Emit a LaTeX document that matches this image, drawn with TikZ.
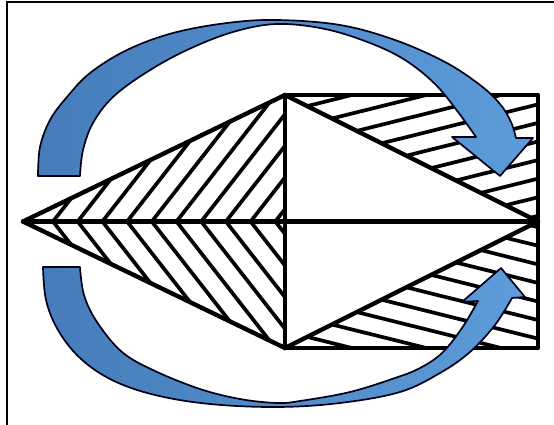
\documentclass[tikz,border=0pt]{standalone}
\definecolor{arrowdark}{RGB}{70,124,186}
\definecolor{arrowlight}{RGB}{92,156,216}
\tikzset{
  outline/.style={line width=4.4pt, line join=round, line cap=round},
  hatch/.style={line width=3.7pt},
  arrowbody/.style={draw=black!90!blue, line width=1.7pt, left color=arrowdark, right color=arrowlight, line join=round},
  framestroke/.style={line width=2.2pt}
}
\begin{document}
\begin{tikzpicture}[x=1pt,y=-1pt]
\useasboundingbox (0,0) rectangle (554,425);
\fill[white] (0,0) rectangle (554,425);
% key points
\coordinate (T) at (23,221.5);
\coordinate (R1) at (285,95);
\coordinate (R2) at (538,95);
\coordinate (R3) at (538,348);
\coordinate (R4) at (285,348);
\coordinate (M) at (538,221.5);
\coordinate (C) at (285,221.5);
\coordinate (FBL) at (7,432);
\coordinate (FTL) at (7,2);
\coordinate (FTR) at (560,2);
% frame
\draw[framestroke] (FBL) -- (FTL) -- (FTR);
% hatching: left upper triangle
\begin{scope}
\clip (T) -- (R1) -- (C) -- cycle;
\foreach \k in {-1,...,11} {
  \pgfmathsetmacro{\xa}{53+24.7*\k}
  \draw[hatch] (\xa-60,298.3) -- (\xa+130,55.1);
}
\end{scope}
% left lower triangle
\begin{scope}
\clip (T) -- (C) -- (R4) -- cycle;
\foreach \k in {-1,...,11} {
  \pgfmathsetmacro{\xa}{53+24.7*\k}
  \draw[hatch] (\xa-60,144.7) -- (\xa+130,387.9);
}
\end{scope}
% right upper triangle
\begin{scope}
\clip (R1) -- (R2) -- (M) -- cycle;
\foreach \k in {-3,...,10} {
  \pgfmathsetmacro{\px}{332+24.8*\k}
  \pgfmathsetmacro{\py}{118.5+12.4*\k}
  \draw[hatch] (\px-300,\py+74.7) -- (\px+300,\py-74.7);
}
\end{scope}
% right lower triangle
\begin{scope}
\clip (R4) -- (R3) -- (M) -- cycle;
\foreach \k in {-3,...,10} {
  \pgfmathsetmacro{\px}{332+24.8*\k}
  \pgfmathsetmacro{\py}{324.5-12.4*\k}
  \draw[hatch] (\px-300,\py-74.7) -- (\px+300,\py+74.7);
}
\end{scope}
% outlines
\draw[outline] (R1) -- (R2) -- (R3) -- (R4) -- cycle;
\draw[outline] (T) -- (M);
\draw[outline] (R4) -- (T) -- (R1);
\draw[outline] (R1) -- (M) -- (R4);
% upper curved arrow
\shadedraw[arrowbody] plot[smooth, tension=0.6] coordinates {(38,176) (40,147) (50,120) (67,97) (90,73) (127,50) (173,33) (227,23) (277,20) (340,25) (395,40) (445,62) (480,85) (500,104) (511,122) (516,138)}
  -- (533,138) -- (500,176) -- (452,137)
  -- plot[smooth, tension=0.6] coordinates {(476,137) (458,112) (435,84) (405,60) (370,43) (325,29) (277,24) (233,32) (187,50) (147,72) (113,97) (93,123) (83,150) (80,176)} -- cycle;
% lower curved arrow
\shadedraw[arrowbody] plot[smooth, tension=0.6] coordinates {(43,267) (46,300) (58,330) (80,358) (112,380) (155,395) (210,404) (277,407) (340,403) (400,392) (440,373) (470,352) (495,325) (512,298)}
  -- (525,297) -- (501,268) -- (462,302)
  -- plot[smooth, tension=0.6] coordinates {(478,301) (462,328) (442,353) (420,368) (395,378) (350,392) (300,401) (277,403) (240,399) (200,389) (155,371) (122,352) (97,322) (84,295) (80,267)} -- cycle;
\end{tikzpicture}
\end{document}
